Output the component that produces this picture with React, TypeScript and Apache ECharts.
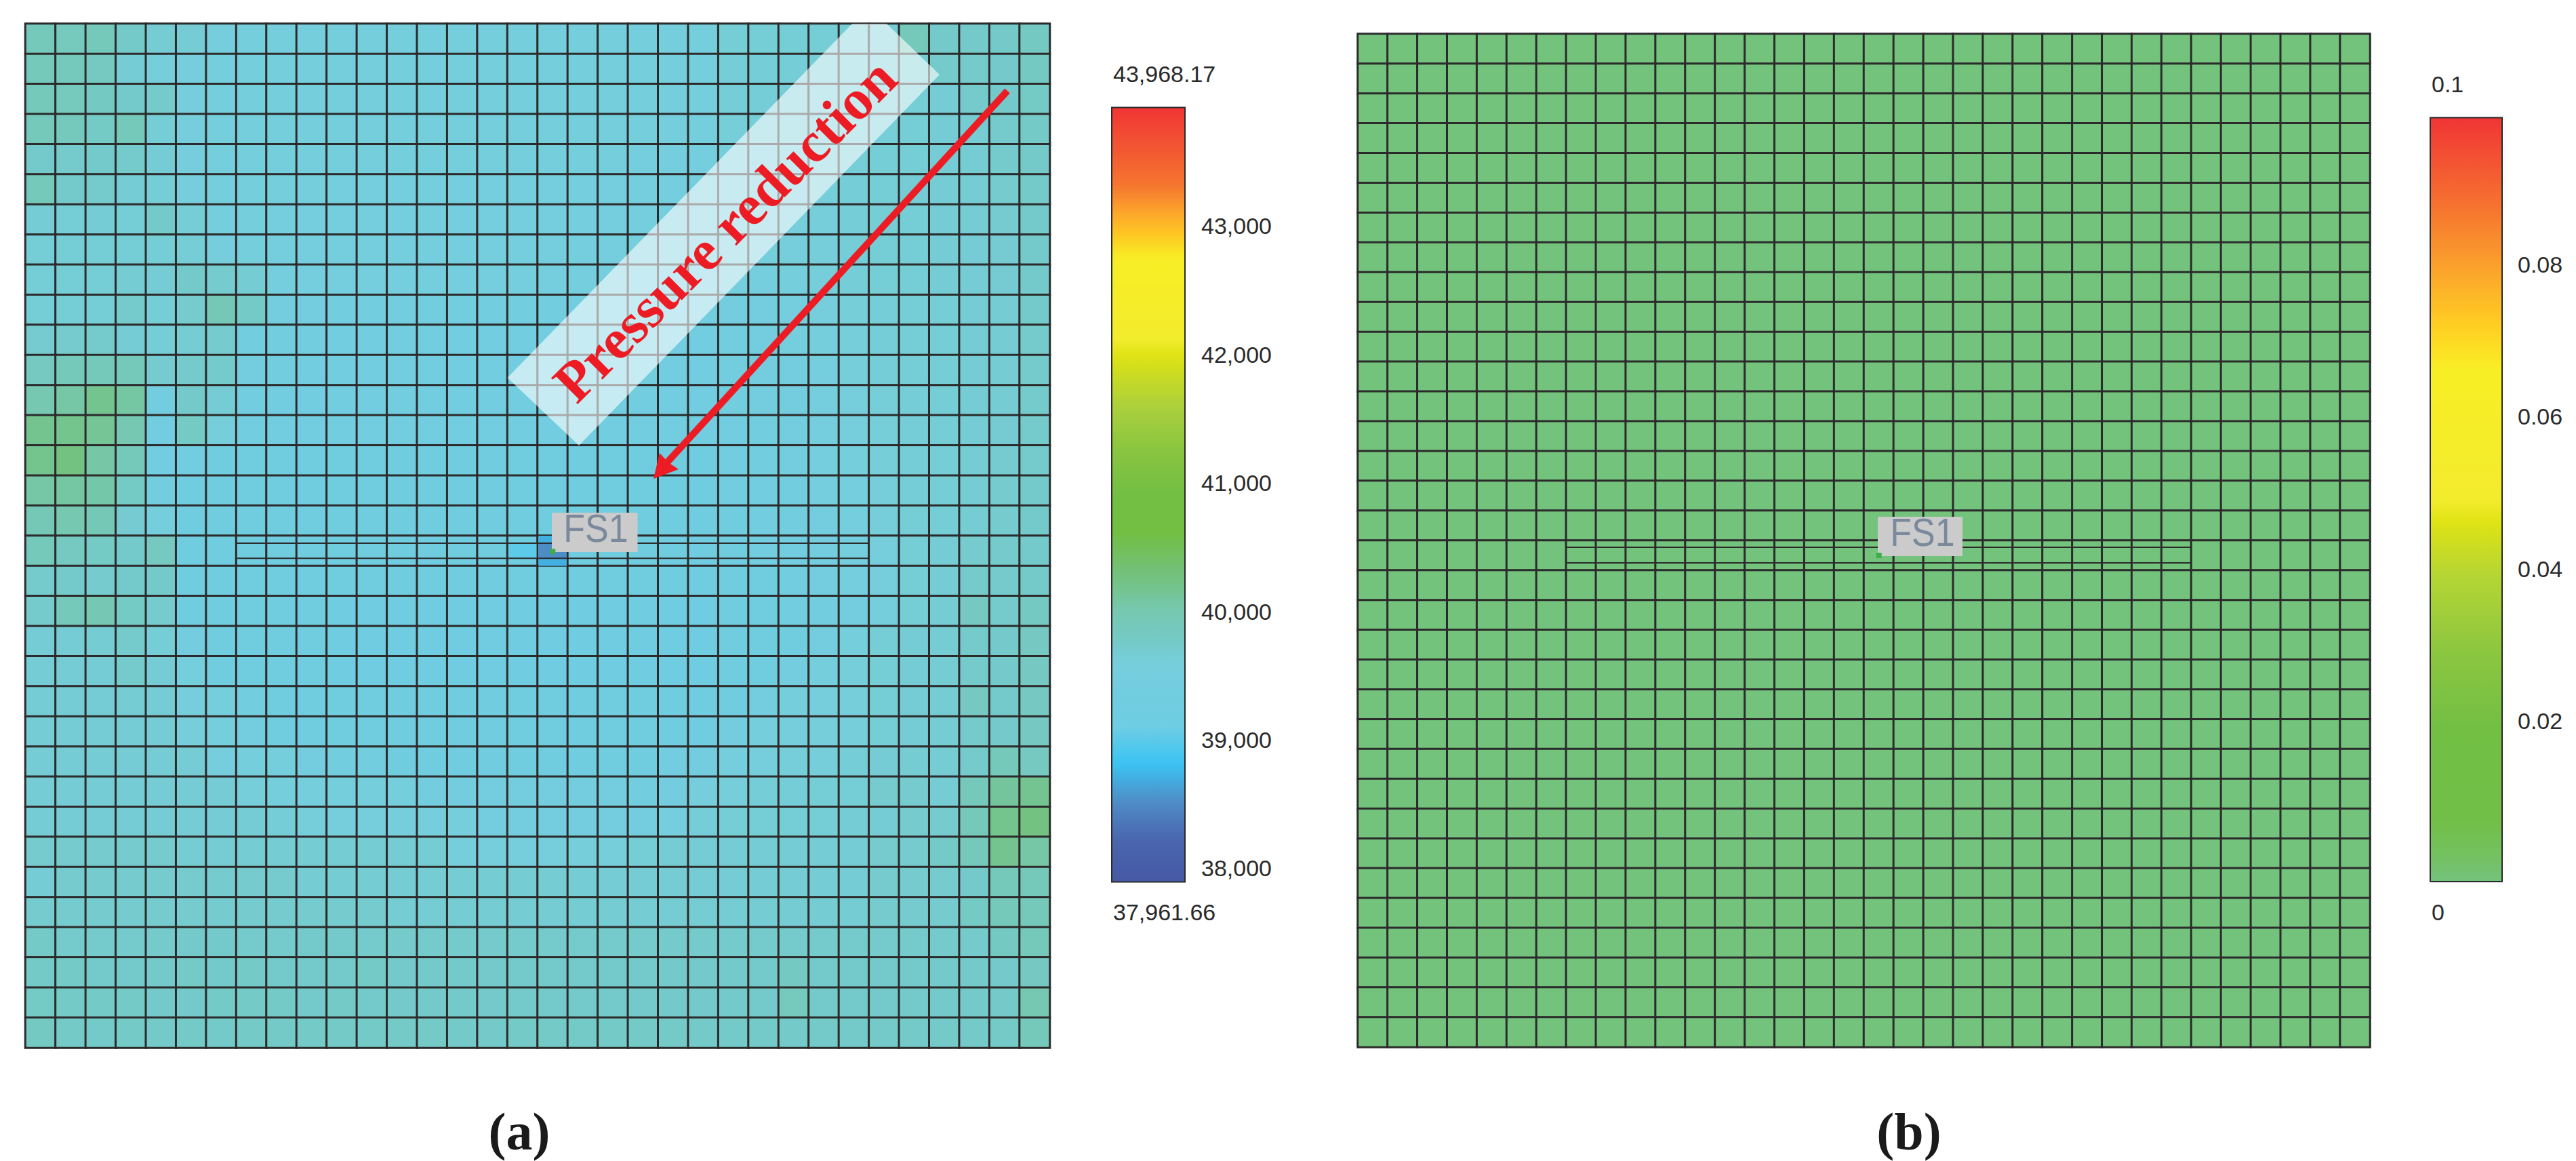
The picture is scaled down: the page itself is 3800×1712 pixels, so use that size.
import React, { useEffect, useRef } from "react";
import * as echarts from "echarts";

const pressureRows = [
[39950,39930,39950,39810,39730,39720,39640,39620,39620,39620, 39620,39620,39620,39620,39620,39620,39620,39620,39620,39620, 39620,39620,39620,39700,39700,39700,39700,39700,39700,39950, 39800,39800,39810,39860],
[39950,39940,39900,39720,39650,39630,39620,39620,39620,39620, 39620,39620,39620,39620,39620,39620,39620,39620,39620,39620, 39620,39620,39620,39690,39690,39690,39690,39690,39690,39730, 39790,39790,39800,39860],
[39950,39930,39860,39800,39790,39640,39620,39620,39620,39620, 39620,39620,39620,39620,39620,39620,39620,39620,39620,39620, 39620,39620,39620,39680,39680,39680,39680,39680,39680,39700, 39720,39790,39800,39850],
[39950,39940,39850,39960,39700,39630,39620,39620,39620,39620, 39620,39620,39620,39620,39620,39620,39620,39620,39620,39620, 39620,39620,39620,39670,39670,39670,39670,39670,39670,39700, 39720,39730,39790,39820],
[39800,39790,39800,39790,39720,39630,39620,39620,39620,39620, 39620,39620,39620,39620,39620,39620,39620,39620,39620,39620, 39610,39610,39610,39650,39650,39650,39670,39680,39700,39710, 39720,39730,39790,39810],
[39950,39800,39790,39720,39700,39630,39620,39620,39620,39620, 39610,39610,39610,39610,39610,39610,39610,39610,39610,39610, 39600,39600,39600,39640,39640,39640,39660,39680,39700,39720, 39720,39730,39770,39810],
[39720,39710,39720,39700,39800,39700,39620,39620,39610,39610, 39600,39600,39600,39600,39600,39600,39600,39600,39600,39600, 39590,39590,39590,39630,39640,39640,39650,39690,39700,39710, 39720,39730,39760,39800],
[39700,39700,39700,39700,39700,39700,39640,39620,39600,39600, 39590,39590,39590,39590,39590,39590,39590,39590,39590,39590, 39570,39570,39570,39610,39620,39630,39650,39680,39700,39710, 39720,39720,39750,39800],
[39700,39700,39710,39730,39720,39800,39780,39730,39590,39580, 39560,39560,39560,39560,39560,39560,39560,39560,39560,39560, 39550,39550,39550,39590,39600,39620,39650,39680,39700,39700, 39720,39720,39750,39800],
[39700,39700,39710,39790,39710,39780,40000,39830,39530,39520, 39500,39500,39500,39500,39500,39500,39500,39500,39500,39500, 39500,39500,39500,39520,39550,39580,39630,39670,39690,39700, 39710,39720,39740,39800],
[39760,39780,39790,39720,39700,39740,39780,39500,39480,39480, 39470,39470,39470,39470,39470,39470,39470,39470,39470,39470, 39470,39470,39470,39500,39530,39560,39620,39660,39680,39700, 39710,39720,39740,39790],
[39900,39950,39960,39960,39760,39790,39790,39520,39480,39470, 39460,39460,39460,39460,39460,39460,39460,39460,39460,39460, 39460,39460,39460,39490,39520,39550,39610,39650,39680,39700, 39710,39720,39740,39790],
[40050,40120,40240,40130,39480,39800,39720,39460,39450,39450, 39450,39450,39450,39450,39450,39450,39450,39450,39450,39450, 39450,39450,39450,39480,39510,39540,39600,39640,39670,39690, 39700,39720,39740,39790],
[40240,40250,40200,40040,39470,39850,39650,39460,39450,39450, 39450,39450,39450,39450,39450,39450,39450,39450,39450,39450, 39440,39440,39440,39470,39500,39530,39590,39630,39670,39690, 39700,39720,39750,39790],
[40250,40320,40120,39960,39450,39440,39430,39430,39430,39430, 39430,39430,39430,39430,39430,39430,39430,39430,39430,39430, 39430,39430,39430,39460,39490,39520,39580,39620,39670,39690, 39700,39730,39760,39790],
[40120,40130,40100,39850,39500,39430,39420,39420,39420,39420, 39420,39420,39420,39420,39420,39420,39420,39420,39420,39420, 39420,39420,39420,39440,39470,39500,39560,39610,39660,39690, 39710,39730,39770,39800],
[40000,40050,40000,39750,39620,39430,39410,39410,39410,39410, 39400,39400,39400,39400,39400,39400,39400,39400,39400,39400, 39400,39400,39400,39420,39450,39480,39540,39600,39650,39700, 39710,39730,39780,39800],
[39950,39880,39850,39800,39880,39420,39400,39400,39400,39400, 39400,39400,39400,39400,39400,39400,39400,39400,39400,39400, 39390,39390,39390,39410,39440,39470,39530,39590,39640,39700, 39720,39780,39790,39800],
[39790,39800,39780,39800,39800,39420,39400,39400,39400,39400, 39380,39380,39380,39380,39380,39380,39380,39380,39380,39380, 39380,39380,39380,39400,39430,39460,39520,39580,39640,39700, 39720,39790,39790,39810],
[39790,39950,40020,39850,39780,39410,39390,39390,39390,39390, 39370,39370,39370,39370,39370,39370,39370,39370,39370,39370, 39370,39370,39370,39390,39420,39450,39490,39520,39620,39710, 39730,39870,39790,39860],
[39720,39720,39730,39790,39710,39540,39400,39390,39380,39380, 39370,39370,39370,39370,39370,39370,39370,39370,39370,39370, 39370,39370,39370,39380,39400,39430,39520,39620,39710,39720, 39740,39790,39800,39870],
[39720,39720,39720,39790,39720,39620,39400,39390,39380,39380, 39370,39370,39370,39370,39370,39370,39370,39370,39370,39370, 39370,39370,39370,39390,39420,39530,39620,39650,39710,39720, 39740,39790,39800,39870],
[39720,39720,39720,39730,39720,39640,39620,39500,39400,39390, 39380,39380,39380,39380,39380,39380,39380,39380,39380,39380, 39380,39380,39380,39400,39520,39620,39640,39660,39710,39720, 39740,39870,39800,39870],
[39720,39720,39720,39720,39720,39650,39620,39510,39400,39400, 39390,39390,39390,39390,39390,39390,39390,39390,39390,39390, 39390,39400,39410,39520,39620,39640,39650,39660,39710,39720, 39740,39790,39800,39870],
[39720,39720,39720,39720,39720,39720,39640,39620,39620,39510, 39500,39500,39430,39430,39430,39430,39430,39430,39430,39430, 39420,39440,39510,39620,39640,39650,39660,39680,39720,39730, 39740,39790,39950,39900],
[39720,39720,39720,39720,39720,39720,39720,39650,39620,39620, 39620,39620,39620,39510,39510,39510,39510,39510,39510,39510, 39500,39520,39630,39660,39680,39690,39700,39710,39780,39780, 39730,39950,40170,40220],
[39720,39720,39720,39720,39720,39720,39720,39720,39680,39650, 39630,39630,39630,39630,39630,39540,39540,39540,39540,39540, 39540,39560,39680,39700,39700,39710,39710,39720,39720,39780, 39780,39950,40250,40320],
[39770,39770,39770,39770,39770,39730,39730,39730,39730,39730, 39730,39730,39730,39730,39640,39640,39640,39640,39650,39660, 39700,39720,39720,39720,39720,39720,39720,39720,39770,39770, 39830,39950,40240,40120],
[39720,39770,39770,39770,39770,39770,39770,39770,39770,39730, 39730,39730,39730,39730,39730,39730,39730,39730,39720,39720, 39720,39720,39720,39720,39720,39720,39720,39720,39770,39770, 39780,39800,39950,39950],
[39780,39780,39780,39780,39780,39780,39780,39780,39780,39780, 39780,39780,39730,39730,39730,39730,39730,39730,39730,39730, 39740,39740,39740,39740,39740,39740,39740,39740,39780,39780, 39780,39840,39950,39950],
[39820,39790,39790,39790,39790,39800,39800,39790,39790,39800, 39800,39790,39790,39790,39790,39790,39790,39790,39790,39790, 39790,39790,39790,39790,39790,39790,39790,39790,39790,39790, 39790,39790,39860,39950],
[39830,39830,39800,39800,39800,39820,39800,39820,39800,39800, 39800,39820,39800,39800,39800,39800,39800,39800,39800,39800, 39800,39800,39800,39800,39800,39860,39800,39800,39800,39800, 39800,39800,39800,39870],
[39840,39830,39820,39820,39800,39800,39820,39820,39820,39800, 39820,39800,39800,39800,39800,39800,39800,39800,39800,39800, 39800,39800,39800,39800,39800,39930,39800,39800,39800,39800, 39800,39800,39810,40040],
[39860,39820,39810,39830,39810,39820,39810,39820,39820,39820, 39820,39820,39820,39820,39810,39810,39820,39820,39820,39820, 39820,39820,39810,39810,39810,39810,39810,39810,39810,39810, 39810,39810,39820,39950],
];

const saturationRow = [0,0,0,0,0,0,0,0,0,0, 0,0,0,0,0,0,0,0,0,0, 0,0,0,0,0,0,0,0,0,0, 0,0,0,0];
const saturationRows = [
  saturationRow,saturationRow,saturationRow,saturationRow,saturationRow,saturationRow,saturationRow,saturationRow,saturationRow,saturationRow,
  saturationRow,saturationRow,saturationRow,saturationRow,saturationRow,saturationRow,saturationRow,saturationRow,saturationRow,saturationRow,
  saturationRow,saturationRow,saturationRow,saturationRow,saturationRow,saturationRow,saturationRow,saturationRow,saturationRow,saturationRow,
  saturationRow,saturationRow,saturationRow,saturationRow,
];

// [column, row, value, sub-row start, sub-row end]
const fractureCells = [
  [16, 17, 39070, 0.25, 0.75],
  [17, 17, 38770, 0, 0.25],
  [17, 17, 38580, 0.25, 0.75],
  [17, 17, 38770, 0.75, 1],
];
// [first column, last column, row, position inside the row]
const fractureLinesA = [[7, 27, 17, 0.25], [7, 27, 17, 0.75]];
const fractureLinesB = [[7, 27, 17, 0.23], [7, 27, 17, 0.75]];

const pressureMin = 37961.66;
const pressureMax = 43968.17;
const pressureTicks = [38000, 39000, 40000, 41000, 42000, 43000];
const saturationMin = 0;
const saturationMax = 0.1;
const saturationTicks = [0.02, 0.04, 0.06, 0.08];

const pressureStops: [number, string][] = [
  [0, "#4659a6"], [0.054, "#4a65ae"], [0.105, "#4e8ec8"], [0.153, "#3bc4f3"], [0.2, "#6ecde4"],
  [0.25, "#71cddf"], [0.282, "#76cedc"], [0.31, "#74cac7"], [0.348, "#76c8b2"], [0.38, "#74c48e"],
  [0.408, "#73c071"], [0.45, "#72bf44"], [0.5, "#72bf44"], [0.555, "#88c540"], [0.614, "#abd03c"],
  [0.68, "#dfe314"], [0.7, "#f3ec2d"], [0.806, "#f8ee25"], [0.835, "#fdc823"], [0.865, "#fca52b"],
  [0.9, "#f5752f"], [1, "#f03535"],
];
const saturationStops: [number, string][] = [
  [0, "#73c37c"], [0.03, "#74c163"], [0.08, "#72bf48"], [0.2, "#72bf44"], [0.3, "#8cc63f"],
  [0.4, "#b4d534"], [0.47, "#dfe314"], [0.5, "#f3ec2d"], [0.67, "#f8ee25"], [0.72, "#ffd322"],
  [0.8, "#fba42b"], [0.88, "#f6752f"], [1, "#f03535"],
];

function expandStops(stops: [number, string][]) {
  const out: string[] = [];
  for (let i = 0; i <= 100; i++) {
    const t = i / 100;
    let k = 0;
    while (k < stops.length - 2 && stops[k + 1][0] < t) k++;
    const f = Math.min(1, Math.max(0, (t - stops[k][0]) / (stops[k + 1][0] - stops[k][0])));
    out.push(echarts.color.lerp(f, [stops[k][1], stops[k + 1][1]]) as string);
  }
  return out;
}

const indexLabels = pressureRows.map((_, i) => String(i));
const toCells = (rows: number[][]) => rows.flatMap((r, y) => r.map((v, x) => [x, y, v]));

const GRID_LINE = "#2b2b2b";
const RED = "#ed1c24";
const sans = '"Liberation Sans", Arial, sans-serif';
const serif = '"Liberation Serif", "Times New Roman", serif';

const renderCell = (_: any, api: any) => {
  const c = api.coord([api.value(0), api.value(1)]);
  const s = api.size([1, 1]);
  const top = c[1] - s[1] / 2;
  return {
    type: "rect",
    shape: {
      x: c[0] - s[0] / 2 + 1.5,
      y: top + api.value(3) * s[1],
      width: s[0] - 3,
      height: (api.value(4) - api.value(3)) * s[1],
    },
    style: { fill: api.visual("color") },
  };
};
const renderLine = (_: any, api: any) => {
  const a = api.coord([api.value(0), api.value(2)]);
  const b = api.coord([api.value(1), api.value(2)]);
  const s = api.size([1, 1]);
  const y = a[1] - s[1] / 2 + api.value(3) * s[1];
  return {
    type: "line",
    shape: { x1: a[0] - s[0] / 2, y1: y, x2: b[0] + s[0] / 2, y2: y },
    style: { stroke: GRID_LINE, lineWidth: 2 },
  };
};

const heat = (data: number[][], ax: number) => ({
  type: "heatmap",
  xAxisIndex: ax,
  yAxisIndex: ax,
  data,
  progressive: 0,
  silent: true,
  itemStyle: { borderColor: GRID_LINE, borderWidth: 3 },
  emphasis: { disabled: true },
});

const hiddenCategory = (gridIndex: number, inverse: boolean) => ({
  type: "category",
  gridIndex,
  data: indexLabels,
  show: false,
  inverse,
});

const tickAxis = (gridIndex: number, min: number, max: number, values: number[], margin: number, fmt: (v: number) => string) => ({
  type: "value",
  gridIndex,
  position: "right",
  min,
  max,
  splitLine: { show: false },
  axisLine: { show: false },
  axisTick: { show: true, length: 9.5, lineStyle: { color: "#222", width: 2 }, customValues: values },
  axisLabel: {
    show: true,
    margin,
    color: "#2a2a2a",
    fontFamily: sans,
    fontSize: 34,
    padding: [0, 0, 4, 0],
    customValues: values,
    formatter: fmt,
  },
});

const txt = (text: string, x: number, y: number, font: string, fill: string, align = "left", extra: any = {}) => ({
  type: "text",
  x,
  y,
  z: 100,
  silent: true,
  ...extra,
  style: { text, font, fill, textAlign: align, textVerticalAlign: "middle" },
});
const box = (x: number, y: number, width: number, height: number, style: any) => ({
  type: "rect",
  z: 99,
  silent: true,
  shape: { x, y, width, height },
  style,
});

const legendFont = `34px ${sans}`;
const captionFont = `bold 78px ${serif}`;
const fsFont = `52px ${sans}`;

export default function App() {
  const ref = useRef<HTMLDivElement>(null);
  useEffect(() => {
    document.body.style.margin = "0";
    const chart = echarts.init(ref.current!, undefined, { renderer: "svg" });
    chart.setOption({
      animation: false,
      backgroundColor: "#ffffff",
      grid: [
        { left: 37.5, top: 35, width: 1511, height: 1510 },
        { left: 1640, top: 150, width: 108, height: 1137.6 },
        { left: 2003, top: 50, width: 1493, height: 1494 },
        { left: 3585, top: 165.5, width: 106, height: 1122 },
      ],
      xAxis: [
        hiddenCategory(0, false),
        { type: "value", gridIndex: 1, show: false },
        hiddenCategory(2, false),
        { type: "value", gridIndex: 3, show: false },
      ],
      yAxis: [
        hiddenCategory(0, true),
        tickAxis(1, pressureMin, pressureMax, pressureTicks, 24, (v) => v.toLocaleString("en-US")),
        hiddenCategory(2, true),
        tickAxis(3, saturationMin, saturationMax, saturationTicks, 23, (v) => String(v)),
      ],
      visualMap: [
        {
          type: "continuous",
          seriesIndex: [0, 1],
          dimension: 2,
          min: pressureMin,
          max: pressureMax,
          inRange: { color: expandStops(pressureStops) },
          left: 1640,
          top: 158.5,
          padding: 0,
          itemWidth: 108,
          itemHeight: 1142,
          calculable: false,
          hoverLink: false,
          silent: true,
        },
        {
          type: "continuous",
          seriesIndex: [3],
          dimension: 2,
          min: saturationMin,
          max: saturationMax,
          inRange: { color: expandStops(saturationStops) },
          left: 3585,
          top: 173.5,
          padding: 0,
          itemWidth: 106,
          itemHeight: 1126.5,
          calculable: false,
          hoverLink: false,
          silent: true,
        },
      ],
      series: [
        heat(toCells(pressureRows), 0),
        {
          type: "custom",
          xAxisIndex: 0,
          yAxisIndex: 0,
          data: fractureCells,
          renderItem: renderCell,
          silent: true,
          clip: false,
          z: 3,
        },
        {
          type: "custom",
          xAxisIndex: 0,
          yAxisIndex: 0,
          data: fractureLinesA,
          renderItem: renderLine,
          silent: true,
          clip: false,
          z: 4,
        },
        heat(toCells(saturationRows), 2),
        {
          type: "custom",
          xAxisIndex: 2,
          yAxisIndex: 2,
          data: fractureLinesB,
          renderItem: renderLine,
          silent: true,
          clip: false,
          z: 4,
        },
      ],
      graphic: [
        // colour-bar frames
        box(1640, 158.5, 108, 1142, { fill: "none", stroke: "#2a2a2a", lineWidth: 2 }),
        box(3585, 173.5, 106, 1126.5, { fill: "none", stroke: "#2a2a2a", lineWidth: 2 }),
        // colour-bar end labels
        txt("43,968.17", 1642, 109, legendFont, "#2a2a2a"),
        txt("37,961.66", 1642, 1345, legendFont, "#2a2a2a"),
        txt("0.1", 3587, 124, legendFont, "#2a2a2a"),
        txt("0", 3587, 1345, legendFont, "#2a2a2a"),
        // pressure-reduction band and arrow
        {
          type: "polygon",
          z: 98,
          silent: true,
          shape: { points: [[1257, 35], [1308, 35], [1386, 110], [854, 657], [748.5, 557]] },
          style: { fill: "rgba(255,255,255,0.6)" },
        },
        txt("Pressure reduction", 1069, 339, `bold 84px ${serif}`, RED, "center", { rotation: Math.PI / 4 }),
        {
          type: "line",
          z: 100,
          silent: true,
          shape: { x1: 1486, y1: 134, x2: 984, y2: 682 },
          style: { stroke: RED, lineWidth: 10 },
        },
        {
          type: "polygon",
          z: 100,
          silent: true,
          shape: { points: [[964, 706], [973, 668], [986, 682], [1001, 692]] },
          style: { fill: RED },
        },
        // FS1 labels
        box(814, 756, 126.5, 58, { fill: "#cbcbcb" }),
        txt("FS1", 879, 780, fsFont, "#7a8a9c", "center", { scaleY: 1.1 }),
        box(811.3, 809.3, 8, 8, { fill: "#3dae49" }),
        box(2770, 762, 125, 58, { fill: "#cbcbcb" }),
        txt("FS1", 2836, 786, fsFont, "#7a8a9c", "center", { scaleY: 1.1 }),
        box(2767.7, 815, 8, 8, { fill: "#3dae49" }),
        // panel captions
        txt("(a)", 766, 1668, captionFont, "#1a1a1a", "center"),
        txt("(b)", 2816, 1668, captionFont, "#1a1a1a", "center"),
      ],
    });
    return () => chart.dispose();
  }, []);
  return <div ref={ref} style={{ position: "fixed", left: 0, top: 0, width: 3800, height: 1712 }} />;
}
